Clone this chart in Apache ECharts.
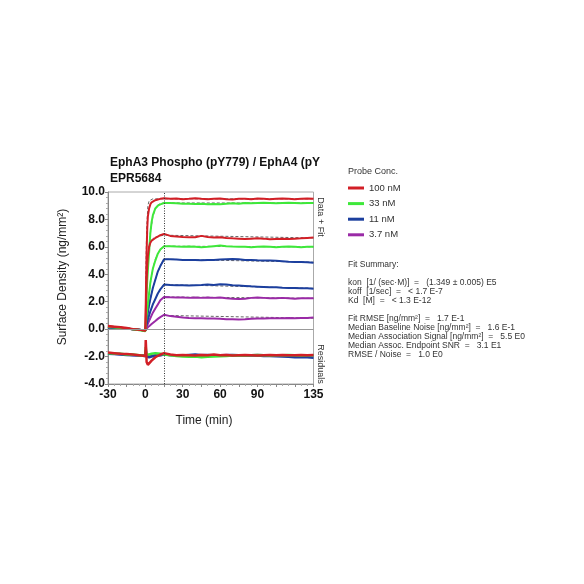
<!DOCTYPE html>
<html>
<head>
<meta charset="utf-8">
<script src="https://cdn.jsdelivr.net/npm/echarts@6/dist/echarts.min.js"></script>
<style>html,body{margin:0;padding:0;background:#fff;}#c{width:584px;height:584px;}</style>
</head>
<body>
<div id="c"></div>
<script>
// ---- time axes (min) ----
const tBase = [-30,-25,-20,-15,-10,-5,0];
const tAssoc = [0,0.5,1,1.5,2,3,4,5,6,8,10,12,15];
const tDiss = [15,20,25,30,35,40,45,50,55,60,65,70,75,80,85,90,95,100,105,110,115,120,125,130,135];
const tResAssoc = [0,0.3,0.7,1,2,3,5,8,12,15];
const tFit = [0,0.5,1,2,3,4,6,8,10,12,15,135];
const xTickLabels = [-30,0,30,60,90,135];
const legendNames = ['100 nM','33 nM','11 nM','3.7 nM'];

// ---- sensorgram data (ng/mm²) ----
const red1Base = [0.2,0.15,0.12,0.05,0.0,-0.05,-0.12];
const red1Assoc = [-0.12,3.0,5.6,7.3,8.2,8.8,9.1,9.25,9.3,9.4,9.45,9.5,9.55];
const red1Diss = [9.55,9.5,9.52,9.48,9.5,9.55,9.5,9.47,9.5,9.52,9.48,9.45,9.5,9.5,9.48,9.52,9.5,9.47,9.5,9.52,9.5,9.48,9.5,9.52,9.5];

const green1Base = [0.15,0.12,0.08,0.05,0.0,-0.08,-0.15];
const green1Assoc = [-0.15,1.2,2.5,3.5,4.3,5.6,7.0,7.8,8.3,8.8,9.0,9.1,9.2];
const green1Diss = [9.2,9.2,9.18,9.15,9.15,9.12,9.15,9.1,9.12,9.1,9.15,9.18,9.15,9.2,9.18,9.2,9.22,9.2,9.18,9.2,9.22,9.2,9.18,9.2,9.2];

const red2Base = [0.25,0.2,0.15,0.1,0.02,-0.05,-0.1];
const red2Assoc = [-0.1,1.8,3.5,4.6,5.3,6.0,6.3,6.45,6.55,6.65,6.75,6.85,6.95];
const red2Diss = [6.95,6.8,6.75,6.72,6.7,6.7,6.8,6.72,6.68,6.7,6.65,6.62,6.6,6.58,6.6,6.62,6.6,6.55,6.58,6.6,6.58,6.6,6.62,6.65,6.68];

const green2Base = [0.2,0.15,0.1,0.05,0.0,-0.05,-0.12];
const green2Assoc = [-0.12,0.5,1.0,1.4,1.8,2.6,3.4,3.9,4.4,5.0,5.5,5.8,6.05];
const green2Diss = [6.05,6.05,6.02,6.0,6.02,6.0,5.98,6.0,6.05,6.1,6.05,6.02,6.0,6.0,5.98,6.0,6.02,6.0,5.98,6.0,6.02,6.0,5.98,6.0,6.0];

const blue1Base = [0.1,0.08,0.05,0.02,0.0,-0.05,-0.1];
const blue1Assoc = [-0.1,0.3,0.65,0.95,1.2,1.75,2.2,2.6,3.0,3.6,4.2,4.6,5.1];
const blue1Diss = [5.1,5.1,5.08,5.05,5.05,5.05,5.02,5.05,5.05,5.08,5.1,5.12,5.1,5.05,5.05,5.02,5.0,5.0,4.98,4.95,4.92,4.9,4.9,4.88,4.85];

const blue2Base = [0.15,0.1,0.08,0.05,0.0,-0.05,-0.1];
const blue2Assoc = [-0.1,0.15,0.35,0.55,0.7,1.0,1.3,1.55,1.8,2.2,2.6,2.9,3.25];
const blue2Diss = [3.25,3.22,3.2,3.2,3.18,3.2,3.22,3.25,3.22,3.28,3.25,3.2,3.18,3.15,3.12,3.1,3.08,3.05,3.05,3.02,3.0,3.0,2.98,2.98,2.95];

const purple1Base = [0.2,0.15,0.1,0.05,0.0,-0.05,-0.1];
const purple1Assoc = [-0.1,0.05,0.15,0.28,0.4,0.6,0.8,1.0,1.2,1.5,1.8,2.1,2.35];
const purple1Diss = [2.35,2.32,2.3,2.3,2.28,2.3,2.28,2.3,2.28,2.3,2.25,2.22,2.2,2.22,2.28,2.3,2.28,2.25,2.25,2.28,2.25,2.22,2.25,2.25,2.25];

const purple2Base = [0.15,0.12,0.1,0.05,0.0,-0.05,-0.1];
const purple2Assoc = [-0.1,0.0,0.05,0.1,0.15,0.22,0.3,0.38,0.45,0.6,0.75,0.88,1.05];
const purple2Diss = [1.05,0.95,0.9,0.85,0.82,0.8,0.8,0.78,0.78,0.75,0.72,0.72,0.7,0.72,0.75,0.78,0.78,0.8,0.8,0.8,0.82,0.8,0.82,0.82,0.85];

// ---- model fits (ng/mm²) ----
const red1Fit = [0,4.6,7.2,9.0,9.35,9.45,9.5,9.5,9.5,9.5,9.5,9.5];
const green1Fit = [0,1.3,2.6,4.6,6.0,7.0,8.2,8.8,9.05,9.15,9.2,9.2];
const red2Fit = [0,2.0,3.6,5.4,6.1,6.4,6.6,6.7,6.75,6.8,6.85,6.65];
const green2Fit = [0,0.5,1.0,1.8,2.6,3.3,4.4,5.1,5.5,5.8,6.05,6.0];
const blue1Fit = [0,0.3,0.6,1.2,1.7,2.2,3.0,3.6,4.2,4.6,5.1,4.88];
const blue2Fit = [0,0.18,0.35,0.7,1.0,1.3,1.8,2.2,2.6,2.9,3.25,2.98];
const purple1Fit = [0,0.1,0.2,0.4,0.6,0.8,1.2,1.5,1.8,2.1,2.35,2.25];
const purple2Fit = [0,0.04,0.07,0.15,0.22,0.3,0.45,0.6,0.75,0.88,1.0,0.8];

// ---- residuals (plotted with -2 offset) ----
const redResBase = [-1.7,-1.75,-1.8,-1.82,-1.85,-1.9,-1.95];
const redResAssoc = [-1.95,-0.8,-1.6,-2.4,-2.6,-2.55,-2.3,-2.05,-1.85,-1.75];
const redResDiss = [-1.75,-1.85,-1.9,-1.88,-1.9,-1.92,-1.88,-1.9,-1.85,-1.9,-1.88,-1.92,-1.9,-1.88,-1.9,-1.92,-1.9,-1.88,-1.9,-1.88,-1.9,-1.9,-1.88,-1.9,-1.88];
const greenResBase = [-1.75,-1.78,-1.8,-1.85,-1.85,-1.9,-1.95];
const greenResAssoc = [-1.95,-1.3,-1.7,-1.85,-1.9,-1.85,-1.8,-1.75,-1.8,-1.85];
const greenResDiss = [-1.85,-1.9,-1.95,-2.0,-2.02,-2.0,-2.05,-2.02,-2.0,-1.98,-1.95,-1.92,-1.9,-1.92,-1.9,-1.88,-1.9,-1.92,-1.9,-1.9,-1.88,-1.9,-1.92,-1.9,-1.9];
const blueResBase = [-1.8,-1.82,-1.85,-1.88,-1.9,-1.92,-1.95];
const blueResAssoc = [-1.95,-1.5,-1.8,-2.0,-2.1,-2.05,-2.0,-1.95,-1.9,-1.85];
const blueResDiss = [-1.85,-1.88,-1.9,-1.92,-1.88,-1.85,-1.9,-1.88,-1.9,-1.92,-1.9,-1.88,-1.9,-1.92,-1.9,-1.92,-1.95,-1.95,-1.98,-2.0,-2.02,-2.05,-2.05,-2.05,-2.08];
const purpleResBase = [-1.75,-1.8,-1.82,-1.85,-1.88,-1.9,-1.92];
const purpleResAssoc = [-1.92,-1.6,-1.85,-1.95,-2.0,-1.98,-1.95,-1.9,-1.88,-1.85];
const purpleResDiss = [-1.85,-1.88,-1.9,-1.9,-1.92,-1.9,-1.88,-1.9,-1.92,-1.9,-1.88,-1.9,-1.92,-1.9,-1.9,-1.88,-1.9,-1.92,-1.9,-1.9,-1.92,-1.9,-1.9,-1.92,-1.9];

const summaryLines = [
  ['Fit Summary:', 265],
  ['kon  [1/ (sec\u00B7M)]  =   (1.349 \u00B1 0.005) E5', 283],
  ['koff  [1/sec]  =   < 1.7 E-7', 292],
  ['Kd  [M]  =   < 1.3 E-12', 301],
  ['Fit RMSE [ng/mm\u00B2]  =   1.7 E-1', 319],
  ['Median Baseline Noise [ng/mm\u00B2]  =   1.6 E-1', 328],
  ['Median Association Signal [ng/mm\u00B2]  =   5.5 E0', 337],
  ['Median Assoc. Endpoint SNR  =   3.1 E1', 346],
  ['RMSE / Noise  =   1.0 E0', 355]
];

const COL = {'100 nM':'#d21f26','33 nM':'#3ee83a','11 nM':'#1c3f9e','3.7 nM':'#9a2aa6'};
const FONT = '"Liberation Sans", Arial, sans-serif';

function zip(ts, vs){ return ts.map((t,i)=>[t, vs[i]]); }
function curve(base, assoc, diss){
  return zip(tBase, base).concat(zip(tAssoc, assoc).slice(1)).concat(zip(tDiss, diss).slice(1));
}
function resCurve(base, assoc, diss){
  return zip(tBase, base).concat(zip(tResAssoc, assoc).slice(1)).concat(zip(tDiss, diss).slice(1));
}
function dataSeries(name, data, w){
  return {type:'line', name:name, data:data, showSymbol:false, symbol:'none', silent:true,
    lineStyle:{color:COL[name], width:w||2}, itemStyle:{color:COL[name]}, z:3, animation:false};
}
function fitSeries(vals){
  return {type:'line', name:'fit', data:zip(tFit, vals), showSymbol:false, symbol:'none', silent:true,
    lineStyle:{color:'#666', width:1, type:[3,2]}, z:2, animation:false};
}

const series = [
  fitSeries(purple2Fit), fitSeries(purple1Fit), fitSeries(blue2Fit), fitSeries(blue1Fit),
  fitSeries(green2Fit), fitSeries(green1Fit), fitSeries(red2Fit), fitSeries(red1Fit),
  dataSeries('3.7 nM', resCurve(purpleResBase, purpleResAssoc, purpleResDiss), 2.5),
  dataSeries('11 nM', resCurve(blueResBase, blueResAssoc, blueResDiss), 2.5),
  dataSeries('33 nM', resCurve(greenResBase, greenResAssoc, greenResDiss), 2.5),
  dataSeries('100 nM', resCurve(redResBase, redResAssoc, redResDiss), 2.5),
  dataSeries('3.7 nM', curve(purple2Base, purple2Assoc, purple2Diss)),
  dataSeries('3.7 nM', curve(purple1Base, purple1Assoc, purple1Diss)),
  dataSeries('11 nM', curve(blue2Base, blue2Assoc, blue2Diss)),
  dataSeries('11 nM', curve(blue1Base, blue1Assoc, blue1Diss)),
  dataSeries('33 nM', curve(green2Base, green2Assoc, green2Diss)),
  dataSeries('33 nM', curve(green1Base, green1Assoc, green1Diss)),
  dataSeries('100 nM', curve(red2Base, red2Assoc, red2Diss)),
  dataSeries('100 nM', curve(red1Base, red1Assoc, red1Diss))
];
// reference lines: zero line and end of association
series.push({type:'line', name:'ref', data:[], silent:true, z:1,
  markLine:{symbol:'none', silent:true, label:{show:false}, animation:false,
    data:[
      {yAxis:0, lineStyle:{color:'#999', width:1, type:'solid'}},
      {xAxis:15, lineStyle:{color:'#333', width:1, type:[1,1.5]}}
    ]}});

const graphics = [
  {type:'text', x:63, y:277, rotation:Math.PI/2, style:{text:'Surface Density (ng/mm\u00B2)', font:'12px '+FONT, fill:'#222', textAlign:'center', textVerticalAlign:'middle'}},
  {type:'text', x:204, y:421, style:{text:'Time (min)', font:'12px '+FONT, fill:'#222', textAlign:'center', textVerticalAlign:'middle'}},
  {type:'text', x:320, y:217, rotation:-Math.PI/2, style:{text:'Data + Fit', font:'9px '+FONT, fill:'#333', textAlign:'center', textVerticalAlign:'middle'}},
  {type:'text', x:320, y:364, rotation:-Math.PI/2, style:{text:'Residuals', font:'9px '+FONT, fill:'#333', textAlign:'center', textVerticalAlign:'middle'}},
  {type:'text', x:348, y:172, style:{text:'Probe Conc.', font:'9px '+FONT, fill:'#333', textVerticalAlign:'middle'}}
];
summaryLines.forEach(([txt, y]) => {
  graphics.push({type:'text', x:348, y:y, style:{text:txt, font:'8.5px '+FONT, fill:'#333', textVerticalAlign:'middle'}});
});

const chart = echarts.init(document.getElementById('c'), null, {renderer:'canvas'});
chart.setOption({
  backgroundColor:'#fff',
  animation:false,
  title:{text:'EphA3 Phospho (pY779) / EphA4 (pY\nEPR5684', left:110, top:155, padding:0,
    textStyle:{fontFamily:FONT, fontSize:12, fontWeight:'bold', color:'#111', lineHeight:16}},
  legend:{data:legendNames, orient:'vertical', left:348, top:182, padding:0, icon:'rect', itemWidth:16, itemHeight:3,
    itemGap:3.6, selectedMode:false, textStyle:{fontFamily:FONT, fontSize:9.5, color:'#333', lineHeight:12}},
  grid:{left:108, top:192, width:205.5, height:192, show:true, borderColor:'#aaa', borderWidth:1, containLabel:false},
  xAxis:{type:'value', min:-30, max:135, interval:15,
    axisLine:{show:true, onZero:false, lineStyle:{color:'#888'}},
    axisTick:{show:true, length:3, lineStyle:{color:'#888'}},
    minorTick:{show:true, splitNumber:3, length:2, lineStyle:{color:'#aaa'}},
    splitLine:{show:false},
    axisLabel:{fontFamily:FONT, fontSize:12, fontWeight:'bold', color:'#111', margin:5,
      formatter:function(v){ return xTickLabels.indexOf(v) >= 0 ? String(v) : ''; }}},
  yAxis:{type:'value', min:-4, max:10, interval:2,
    axisLine:{show:true, onZero:false, lineStyle:{color:'#888'}},
    axisTick:{show:true, length:3, lineStyle:{color:'#888'}},
    minorTick:{show:true, splitNumber:5, length:2, lineStyle:{color:'#aaa'}},
    splitLine:{show:false},
    axisLabel:{fontFamily:FONT, fontSize:12, fontWeight:'bold', color:'#111', margin:3,
      formatter:function(v){ return v.toFixed(1); }}},
  graphic:graphics,
  series:series
});
</script>
</body>
</html>
